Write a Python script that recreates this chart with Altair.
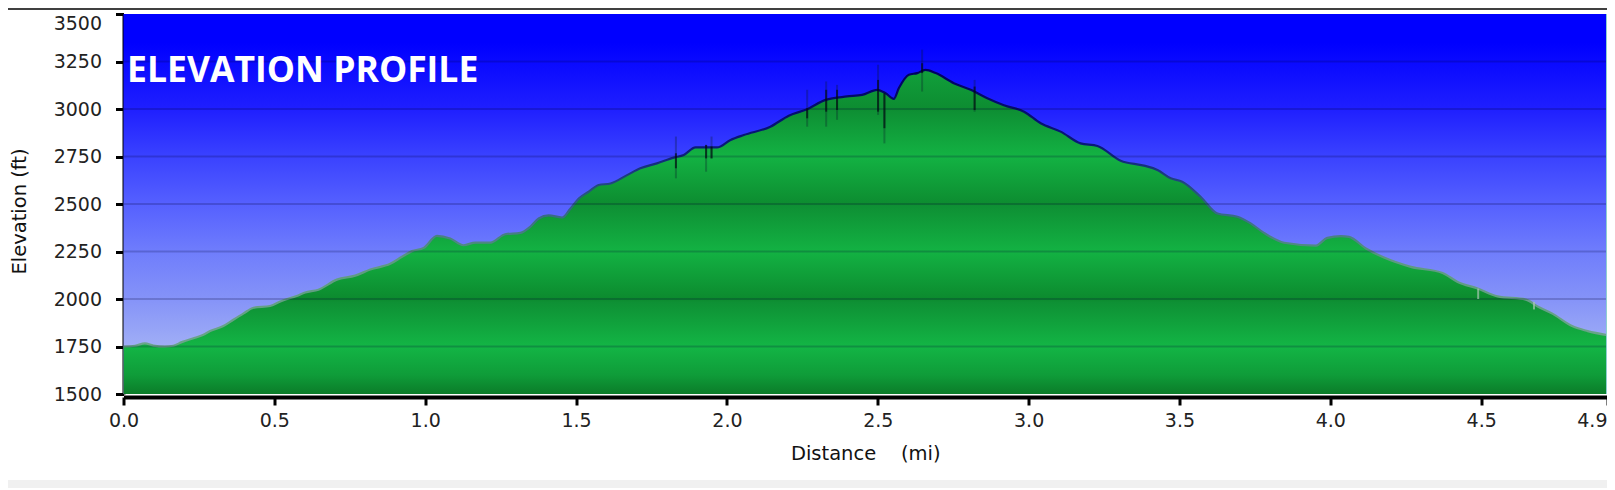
import altair as alt
import pandas as pd

distance = [0.0, 0.038, 0.071, 0.099, 0.137, 0.165, 0.193, 0.237, 0.265, 0.287, 0.331, 0.364, 0.397, 0.431, 0.486,
            0.524, 0.574, 0.602, 0.646, 0.707, 0.768, 0.818, 0.884, 0.923, 0.956, 0.995, 1.039, 1.083, 1.127, 1.166,
            1.216, 1.265, 1.315, 1.348, 1.376, 1.409, 1.454, 1.481, 1.509, 1.542, 1.575, 1.614, 1.669, 1.713, 1.768,
            1.824, 1.857, 1.896, 1.967, 2.012, 2.056, 2.144, 2.205, 2.266, 2.327, 2.398, 2.448, 2.498, 2.526, 2.553,
            2.570, 2.603, 2.631, 2.658, 2.692, 2.752, 2.808, 2.863, 2.918, 2.985, 3.040, 3.106, 3.172, 3.228, 3.305,
            3.382, 3.427, 3.471, 3.509, 3.570, 3.626, 3.692, 3.736, 3.780, 3.847, 3.952, 3.990, 4.035, 4.062, 4.118,
            4.178, 4.267, 4.372, 4.422, 4.488, 4.554, 4.648, 4.687, 4.736, 4.803, 4.853, 4.930]
elevation = [1750, 1754, 1766, 1755, 1750, 1754, 1773, 1796, 1812, 1831, 1858, 1891, 1923, 1954, 1963,
             1990, 2016, 2034, 2049, 2102, 2123, 2155, 2185, 2222, 2252, 2269, 2332, 2318, 2283, 2297,
             2297, 2341, 2348, 2380, 2424, 2440, 2429, 2475, 2529, 2565, 2600, 2608, 2652, 2688, 2714,
             2744, 2758, 2798, 2798, 2837, 2863, 2907, 2965, 2999, 3048, 3066, 3074, 3101, 3083, 3053,
             3110, 3180, 3189, 3206, 3189, 3136, 3101, 3057, 3020, 2986, 2925, 2881, 2819, 2805, 2728,
             2702, 2679, 2635, 2617, 2538, 2450, 2433, 2398, 2348, 2296, 2281, 2322, 2331, 2327, 2266,
             2218, 2169, 2137, 2090, 2055, 2014, 1997, 1961, 1923, 1856, 1831, 1807]

spike_x = [1.831, 1.931, 1.949, 2.266, 2.329, 2.365, 2.501, 2.522, 2.647, 2.821]
spike_top = [2855, 2811, 2855, 3101, 3145, 3127, 3233, 3083, 3312, 3153]
spike_bottom = [2635, 2670, 2740, 2907, 2907, 2943, 2969, 2819, 3092, 2986]
core_top = [2767, 2811, 2802, 3004, 3101, 3101, 3153, 3083, 3241, 3118]
core_bottom = [2688, 2740, 2740, 2951, 2986, 2995, 2986, 2899, 3189, 2995]

pale_x = [4.490, 4.675]
pale_top = [2055, 1985]
pale_bottom = [2000, 1945]

x_max = 4.917
x_ticks = [0.0, 0.5, 1.0, 1.5, 2.0, 2.5, 3.0, 3.5, 4.0, 4.5, x_max]
y_ticks = [1500, 1750, 2000, 2250, 2500, 2750, 3000, 3250, 3500]
grid_levels = [1750, 2000, 2250, 2500, 2750, 3000, 3250]

sky_values = [3500, 3350, 3000, 2750, 2500, 2250, 2000, 1750, 1500]
sky_colors = ["#0000ff", "#0000ff", "#1f1fff", "#3a42ff", "#5560ff", "#6f7dfc", "#8593f8", "#a0aef6", "#b8c4f5"]

ground_values = [3206, 3000, 2985, 2750, 2500, 2490, 2250, 2000, 1985, 1750, 1600, 1500]
ground_colors = ["#11a03b", "#0d8c31", "#0e9034", "#13b243", "#0d8c30", "#0e9034", "#13b243", "#0c8a2e",
                 "#0e9034", "#13b545", "#0f9c39", "#0b7c29"]

line_values = [3206, 2800, 2500, 2200, 1750]
line_colors = ["#000060", "#0a1a78", "#2f5f86", "#5d9a80", "#6aa58a"]


def gradient(values, colors, high, low):
    stops = [alt.GradientStop(color=c, offset=(high - v) / (high - low)) for v, c in zip(values, colors)]
    return alt.Gradient(gradient="linear", x1=0, x2=0, y1=0, y2=1, stops=stops)


FONT = "DejaVu Sans"
x_scale = alt.Scale(domain=[0, x_max], nice=False, zero=False)
y_scale = alt.Scale(domain=[1500, 3500], nice=False, zero=False)
x_axis = alt.Axis(values=x_ticks, format=".1f", title="Distance\u00a0\u00a0\u00a0\u00a0(mi)", offset=3, grid=False,
                  domainWidth=4, domainColor="#000000", tickWidth=3, tickSize=8, tickColor="#000000",
                  labelFont=FONT, labelFontSize=19, labelColor="#222222", labelPadding=6,
                  labelFlush=False, labelOverlap=False,
                  labelAlign=alt.expr("datum.value > 4.9 ? 'right' : 'center'"),
                  titleFont=FONT, titleFontSize=19.5, titleFontWeight="normal", titleColor="#111111",
                  titlePadding=14)
y_axis = alt.Axis(values=y_ticks, format="d", title="Elevation (ft)", grid=False,
                  domainWidth=3, domainColor="#000000", tickWidth=3, tickSize=8, tickColor="#000000",
                  labelFont=FONT, labelFontSize=19, labelColor="#222222", labelPadding=14,
                  labelOverlap=False, labelFlush=False,
                  labelBaseline=alt.expr("datum.value == 3500 ? 'top' : 'middle'"),
                  titleFont=FONT, titleFontSize=19.5, titleFontWeight="normal", titleColor="#111111",
                  titlePadding=24, titleY=197)


def X(field="d"):
    return alt.X(f"{field}:Q", scale=x_scale, axis=x_axis)


def Y(field="e"):
    return alt.Y(f"{field}:Q", scale=y_scale, axis=y_axis)


profile = pd.DataFrame({"d": distance, "e": elevation})
profile["base"] = 1500

sky = alt.Chart(pd.DataFrame({"d": [0], "d2": [x_max], "e": [3500], "e2": [1500]})).mark_rect(
    color=gradient(sky_values, sky_colors, 3500, 1500)
).encode(x=X(), x2="d2:Q", y=Y(), y2="e2:Q")

ground = alt.Chart(profile).mark_area(color=gradient(ground_values, ground_colors, 3206, 1500),
                                      clip=True, interpolate="monotone").encode(x=X(), y=Y(), y2="base:Q")

outline = alt.Chart(profile).mark_line(stroke=gradient(line_values, line_colors, 3206, 1750), strokeWidth=2.2,
                                       clip=True, interpolate="monotone").encode(x=X(), y=Y())

grid = alt.Chart(pd.DataFrame({"e": grid_levels})).mark_rule(color="#000030", opacity=0.2, size=2).encode(y=Y())

spikes = pd.DataFrame({"d": spike_x, "top": spike_top, "bottom": spike_bottom, "ct": core_top, "cb": core_bottom})
faint = alt.Chart(spikes).mark_rule(color="#0a1a2a", opacity=0.3, size=2).encode(x=X(), y=Y("top"), y2="bottom:Q")
core = alt.Chart(spikes).mark_rule(color="#000a10", opacity=0.65, size=2).encode(x=X(), y=Y("ct"), y2="cb:Q")

pale = alt.Chart(pd.DataFrame({"d": pale_x, "top": pale_top, "bottom": pale_bottom})).mark_rule(
    color="#a9c7b4", opacity=0.7, size=2).encode(x=X(), y=Y("top"), y2="bottom:Q")

right_edge = alt.Chart(pd.DataFrame({"d": [x_max]})).mark_rule(color="#8fcfd0", size=2).encode(x=X())

label = alt.Chart(pd.DataFrame({"d": [0.012], "e": [3142], "t": ["ELEVATION PROFILE"]})).mark_text(
    font="Open Sans", fontWeight="bold", fontSize=35.5, color="#ffffff", align="left", baseline="alphabetic"
).encode(x=X(), y=Y(), text="t:N")

footer = alt.Chart(pd.DataFrame({"a": [0]})).mark_rect(color="#f0f0f0").encode(
    x=alt.value(-115.5), x2=alt.value(1484), y=alt.value(466), y2=alt.value(484))
top_rule = alt.Chart(pd.DataFrame({"a": [0]})).mark_rule(color="#000000", size=1.5).encode(
    x=alt.value(-115.5), x2=alt.value(1484), y=alt.value(-5))

chart = alt.layer(footer, top_rule, sky, ground, outline, grid, faint, core, pale, right_edge, label).properties(
    width=1483.5, height=380,
    padding={"left": 115.5, "top": 6, "right": 0, "bottom": 94},
    autosize=alt.AutoSizeParams(type="none"),
    background="#ffffff",
).configure_view(strokeWidth=0)

chart.save("out.html", embed_options={"renderer": "svg", "actions": False})
